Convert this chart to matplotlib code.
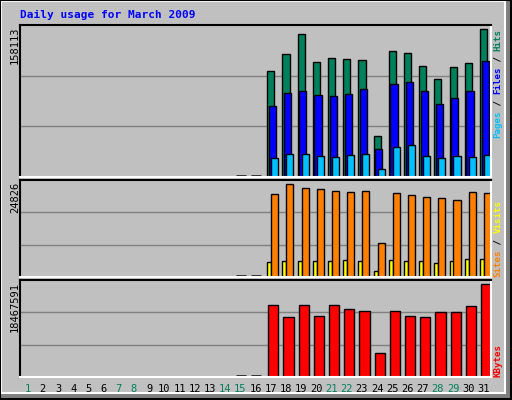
import matplotlib
matplotlib.use("Agg")
import matplotlib.pyplot as plt
import numpy as np

days = list(range(1, 32))
weekend = [1, 7, 8, 14, 15, 21, 22, 28, 29]
zero_days = [15, 16]
data_days = list(range(17, 32))
hits = [113000, 131500, 153000, 123000, 127300, 126000, 125000, 44200, 134500, 132500, 118600, 104800, 117600, 121800, 158113]
files = [75500, 89300, 91900, 87300, 86300, 88300, 93700, 30200, 99200, 101200, 91900, 77600, 84100, 91900, 124000]
pages = [20500, 24600, 24600, 22600, 21600, 23600, 24600, 8700, 32300, 34500, 22600, 20500, 22600, 21600, 23600]
sites = [22100, 24826, 23700, 23450, 22950, 22650, 22950, 9200, 22400, 21850, 21300, 21050, 20500, 22650, 22400]
visits = [4050, 4300, 4300, 4300, 4300, 4600, 4300, 1600, 4600, 4300, 4300, 3750, 4300, 4850, 4850]
kbytes = [14220000, 11860000, 14220000, 12060000, 14220000, 13480000, 13210000, 4730000, 13210000, 12060000, 11860000, 13010000, 13010000, 14020000, 18467591]

W, H = 512, 400
fig = plt.figure(figsize=(W / 100, H / 100), dpi=100)
fig.patch.set_facecolor("#C0C0C0")
mono = "DejaVu Sans Mono"

def px_axes(x0, y0, x1, y1, **kw):
    return fig.add_axes([x0 / W, 1 - y1 / H, (x1 - x0) / W, (y1 - y0) / H], **kw)

# outer frame
bg = px_axes(0, 0, W, H)
bg.set_xlim(0, W); bg.set_ylim(H, 0); bg.axis("off")
bg.add_patch(plt.Rectangle((505, 0), 7, 400, color="#808080", lw=0))
bg.add_patch(plt.Rectangle((0, 393), 512, 7, color="#808080", lw=0))
bg.add_patch(plt.Rectangle((1, 1), 504, 392, fill=False, ec="white", lw=1.5))
bg.add_patch(plt.Rectangle((0, 0), 511, 399, fill=False, ec="black", lw=1.5))

fig.text(20 / W, 1 - 15 / H, "Daily usage for March 2009", color="#0000FF",
         family=mono, fontsize=8, weight="bold", va="center", ha="left")

def panel(y0, y1, ymax):
    ax = px_axes(20, y0, 491, y1)
    ax.set_facecolor("#C0C0C0")
    ax.set_xlim(0.5, 31.5)
    ax.set_ylim(0, ymax)
    ax.set_xticks([]); ax.set_yticks([])
    for yv in (ymax / 3, 2 * ymax / 3):
        ax.axhline(yv, color="#808080", lw=1, zorder=0)
    ax.spines["top"].set_color("black"); ax.spines["left"].set_color("black")
    ax.spines["bottom"].set_color("white"); ax.spines["right"].set_color("white")
    for s in ax.spines.values():
        s.set_linewidth(1.5)
    for d in zero_days:
        ax.plot([d - 0.3, d + 0.35], [ymax * 0.006] * 2, color="black", lw=1.8, solid_capstyle="butt")
    return ax

dd = np.array(data_days)
ekw = dict(edgecolor="black", linewidth=1, align="edge")

ax1 = panel(25, 177, 158113 * 151 / 147)
ax1.bar(dd - 0.23, hits, 0.47, color="#00805C", **ekw)
ax1.bar(dd - 0.12, files, 0.47, color="#0000FF", **ekw)
ax1.bar(dd + 0.03, pages, 0.47, color="#00C0FF", **ekw)

ax2 = panel(180, 277, 24826 * 96 / 92)
ax2.bar(dd - 0.23, visits, 0.27, color="#FFFF00", **ekw)
ax2.bar(dd + 0.03, sites, 0.47, color="#FF8000", **ekw)

ax3 = panel(280, 377, 18467591 * 96 / 92)
ax3.bar(dd - 0.16, kbytes, 0.67, color="#FF0000", **ekw)

# left max labels
for y, lab in ((25, "158113"), (180, "24826"), (280, "18467591")):
    fig.text(15 / W, 1 - (y + 2) / H, lab, rotation=90, family=mono, fontsize=7.5,
             va="top", ha="center", color="black")

# right labels built from coloured pieces (bottom to top)
cw = 5.45
def right_label(ybottom, pieces):
    y = ybottom
    for txt, col in pieces:
        fig.text(498 / W, 1 - y / H, txt, rotation=90, family=mono, fontsize=6.6,
                 va="bottom", ha="center", color=col, weight="bold")
        y -= cw * len(txt)

right_label(138, [("Pages", "#00C0FF"), (" / ", "black"), ("Files", "#0000FF"), (" / ", "black"), ("Hits", "#00805C")])
right_label(277, [("Sites", "#FF8000"), (" / ", "black"), ("Visits", "#FFFF00")])
right_label(377, [("KBytes", "#FF0000")])

# day labels
for d in days:
    x = 20 + (d - 0.5) * (471 / 31)
    fig.text(x / W, 1 - 389 / H, str(d), family=mono, fontsize=7.5, ha="center", va="center",
             color="#00805C" if d in weekend else "black")

fig.savefig("out.png", dpi=100, facecolor=fig.get_facecolor())
